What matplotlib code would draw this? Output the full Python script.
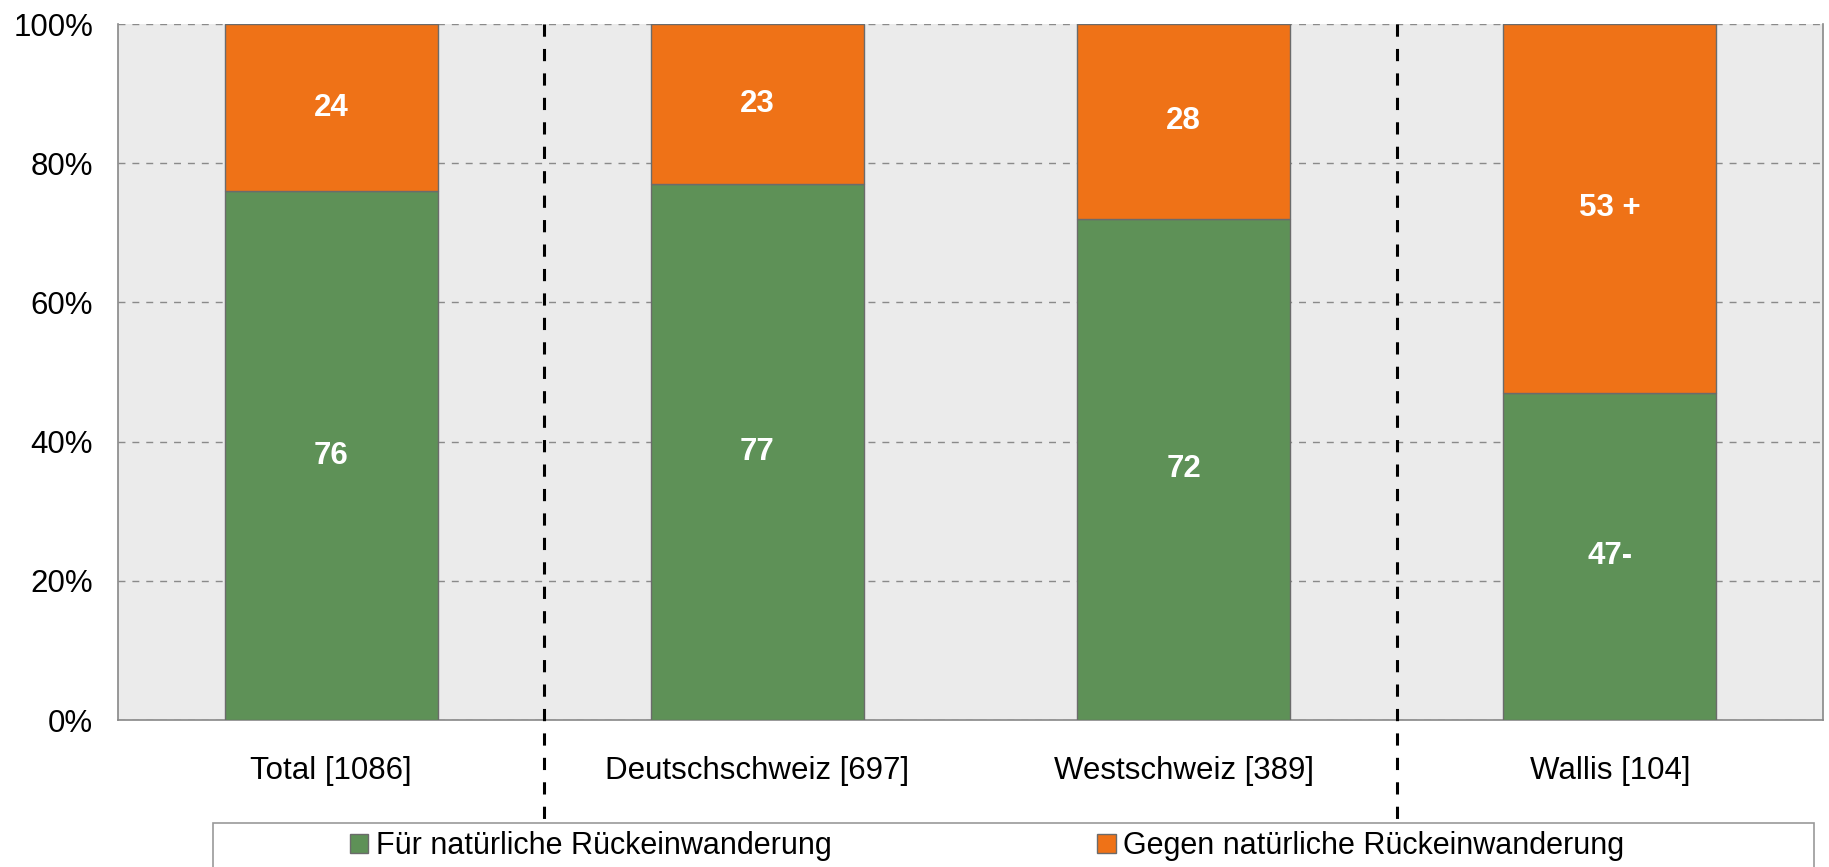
import matplotlib
matplotlib.use("Agg")
import matplotlib.pyplot as plt
from matplotlib.patches import Rectangle

categories = ["Total [1086]", "Deutschschweiz [697]", "Westschweiz [389]", "Wallis [104]"]
fuer = [76, 77, 72, 47]
gegen = [24, 23, 28, 53]
fuer_labels = ["76", "77", "72", "47-"]
gegen_labels = ["24", "23", "28", "53 +"]
series_names = ["Für natürliche Rückeinwanderung", "Gegen natürliche Rückeinwanderung"]
yticks = [0, 20, 40, 60, 80, 100]
separators = [0.5, 2.5]

GREEN = "#5E9157"
ORANGE = "#EF7217"
EDGE = "#6b6b6b"
FS = 22.5

plt.rcParams["font.family"] = ["Liberation Sans", "DejaVu Sans"]

fig = plt.figure(figsize=(18.29, 8.67), dpi=100)
ax = fig.add_axes([118 / 1829, 1 - 720 / 867, (1823 - 118) / 1829, (720 - 24) / 867])
ax.set_facecolor("#EBEBEB")

x = list(range(len(categories)))
b1 = ax.bar(x, fuer, width=0.5, color=GREEN, edgecolor=EDGE, linewidth=1.0,
            label=series_names[0], zorder=3)
b2 = ax.bar(x, gegen, width=0.5, bottom=fuer, color=ORANGE, edgecolor=EDGE,
            linewidth=1.0, label=series_names[1], zorder=3)

for i in x:
    ax.text(i, fuer[i] / 2, fuer_labels[i], ha="center", va="center",
            color="white", fontsize=FS, fontweight="bold", zorder=4)
    ax.text(i, fuer[i] + gegen[i] / 2, gegen_labels[i], ha="center", va="center",
            color="white", fontsize=FS, fontweight="bold", zorder=4)

ax.set_xlim(-0.5, len(categories) - 0.5)
ax.set_ylim(0, 100)
ax.set_yticks(yticks)
ax.set_yticklabels([f"{t}%" for t in yticks])
ax.set_xticks(x)
ax.set_xticklabels(categories)
ax.tick_params(axis="both", length=0, labelsize=FS)
ax.tick_params(axis="y", pad=18)
ax.tick_params(axis="x", pad=26)
ax.yaxis.grid(True, linestyle=(0, (5, 5)), color="#8a8a8a", linewidth=1.0, zorder=0)
for s in ax.spines.values():
    s.set_color("#888888")
    s.set_linewidth(1.2)
ax.spines["top"].set_visible(False)

for sx in separators:
    ax.plot([sx, sx], [100, -14.8], color="black", linestyle=(0, (4, 4)),
            linewidth=2.2, clip_on=False, zorder=5)

fig.patches.append(Rectangle((213 / 1829, -0.05), (1814 - 213) / 1829, 0.05 + 1 - 823 / 867,
                             transform=fig.transFigure, facecolor="white",
                             edgecolor="#999999", linewidth=1.2))
fig.legend(handles=[b1, b2], loc="center", bbox_to_anchor=(987 / 1829, 1 - 846 / 867),
           ncol=2, frameon=False, fontsize=22, handlelength=0.6, handleheight=0.6,
           handletextpad=0.25, columnspacing=8.7)

fig.savefig("out.png", dpi=100)
